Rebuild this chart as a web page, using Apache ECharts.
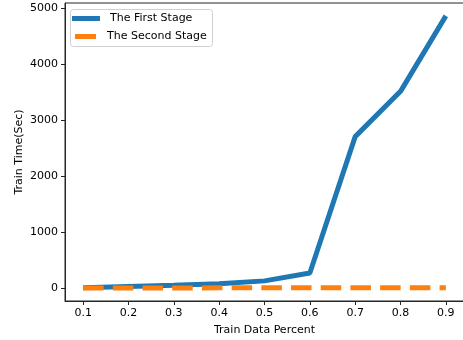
<!DOCTYPE html>
<html><head><meta charset="utf-8">
<script src="https://cdn.jsdelivr.net/npm/echarts@6/dist/echarts.min.js"></script>
<style>html,body{margin:0;padding:0;background:#fff}#c{width:463px;height:340px}</style>
</head><body><div id="c"></div>
<script>
const percents = [0.1, 0.2, 0.3, 0.4, 0.5, 0.6, 0.7, 0.8, 0.9];
const firstStage = [5, 30, 50, 80, 130, 270, 2710, 3520, 4870];
const secondStage = [3, 4, 4, 5, 5, 6, 6, 7, 7];
const xTicks = [0.1, 0.2, 0.3, 0.4, 0.5, 0.6, 0.7, 0.8, 0.9];
const yTicks = [0, 1000, 2000, 3000, 4000, 5000];

const font = 'DejaVu Sans';
const chart = echarts.init(document.getElementById('c'));
chart.setOption({
  animation: false,
  grid: {left: 65, top: 3, width: 399, height: 298, show: true, borderColor: '#262626', borderWidth: 1,
         backgroundColor: 'transparent', containLabel: false, outerBoundsMode: 'none'},
  xAxis: {
    type: 'value', min: 0.06, max: 0.94,
    name: 'Train Data Percent', nameLocation: 'middle', nameGap: 24, nameMoveOverlap: false,
    nameTextStyle: {fontFamily: font, fontSize: 11, color: '#000'},
    axisLine: {show: true, onZero: false, lineStyle: {color: '#262626', width: 1}},
    axisTick: {show: true, length: 4, customValues: xTicks, lineStyle: {color: '#262626'}},
    axisLabel: {customValues: xTicks, margin: 7, fontFamily: font, fontSize: 11, color: '#000', formatter: v => v.toFixed(1)},
    splitLine: {show: false}
  },
  yAxis: {
    type: 'value', min: -230, max: 5100,
    name: 'Train Time(Sec)', nameLocation: 'middle', nameGap: 40, nameMoveOverlap: false,
    nameTextStyle: {fontFamily: font, fontSize: 11, color: '#000'},
    axisLine: {show: true, onZero: false, lineStyle: {color: '#262626', width: 1}},
    axisTick: {show: true, length: 4, customValues: yTicks, lineStyle: {color: '#262626'}},
    axisLabel: {customValues: yTicks, margin: 7, fontFamily: font, fontSize: 11, color: '#000', formatter: v => String(v)},
    splitLine: {show: false}
  },
  graphic: [{type: 'rect', left: 70, top: 9, shape: {width: 142, height: 37, r: 3}, style: {fill: 'rgba(255,255,255,0.8)', stroke: '#d0d0d0', lineWidth: 1}, z: 5}],
  legend: [
    {data: ['The First Stage'], left: 72, top: 13, icon: 'rect', itemWidth: 28, itemHeight: 5, padding: 0,
     textStyle: {fontFamily: font, fontSize: 11, color: '#000', padding: [0, 0, 0, 5]}, z: 10},
    {data: ['The Second Stage'], left: 75, top: 31, icon: 'rect', itemWidth: 21, itemHeight: 5, padding: 0,
     textStyle: {fontFamily: font, fontSize: 11, color: '#000', padding: [0, 0, 0, 6]}, z: 10}
  ],
  series: [
    {name: 'The First Stage', type: 'line', data: percents.map((p, i) => [p, firstStage[i]]), symbol: 'none',
     itemStyle: {color: '#1f77b4'}, lineStyle: {color: '#1f77b4', width: 5}, z: 2},
    {name: 'The Second Stage', type: 'line', data: percents.map((p, i) => [p, secondStage[i]]), symbol: 'none',
     itemStyle: {color: '#ff7f0e'}, lineStyle: {color: '#ff7f0e', width: 5, type: [20.5, 9.2], cap: 'butt'}, z: 3}
  ]
});
</script></body></html>
